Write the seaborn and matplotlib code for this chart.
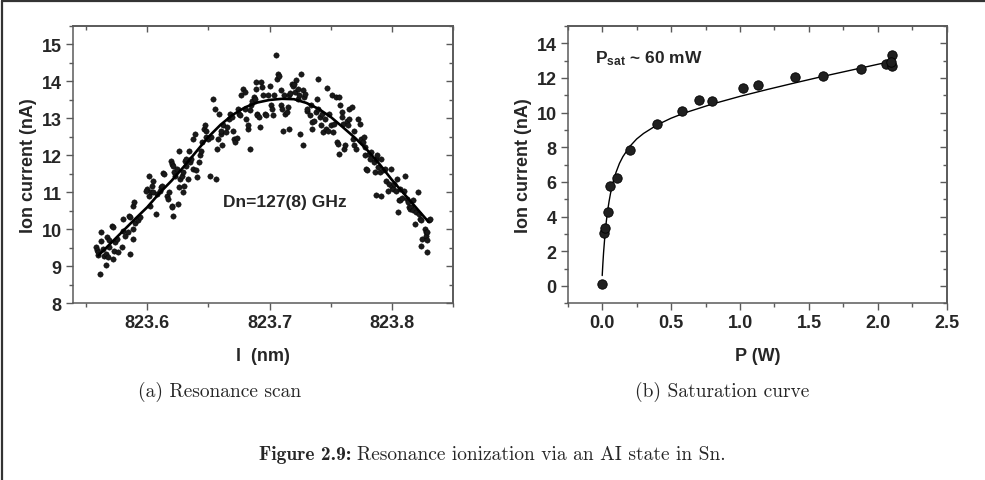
import matplotlib
matplotlib.use("Agg")
import matplotlib.pyplot as plt
import seaborn as sns
import pandas as pd
from matplotlib.ticker import MultipleLocator, FormatStrFormatter
from matplotlib.lines import Line2D
from matplotlib.transforms import offset_copy

# ---------------- data: (a) resonance scan ----------------
scan_x = (
    [823.558, 823.559, 823.560, 823.561, 823.560, 823.562, 823.562, 823.564, 823.565, 823.566,
     823.566, 823.568, 823.567, 823.569, 823.569, 823.571, 823.572, 823.572, 823.573, 823.574]
    + [823.575, 823.576, 823.579, 823.580, 823.582, 823.580, 823.584, 823.585, 823.586, 823.586,
       823.588, 823.588, 823.589, 823.588, 823.590, 823.592]
    + [823.594, 823.600, 823.599, 823.601, 823.601, 823.603, 823.602, 823.605, 823.604, 823.605,
       823.607, 823.608, 823.610, 823.611, 823.612]
    + [823.613, 823.614, 823.616, 823.617, 823.618, 823.620, 823.620, 823.621, 823.619, 823.620,
       823.621, 823.622, 823.623, 823.624, 823.625, 823.626, 823.626, 823.627, 823.628, 823.629,
       823.629, 823.630]
    + [823.631, 823.632, 823.632, 823.633, 823.634, 823.635, 823.636, 823.637, 823.637, 823.639,
       823.640, 823.641, 823.642, 823.643, 823.644, 823.645, 823.646, 823.647, 823.648, 823.648,
       823.650]
    + [823.651, 823.652, 823.654, 823.655, 823.656, 823.657, 823.658, 823.659, 823.660, 823.660,
       823.661, 823.662, 823.664, 823.665, 823.667, 823.668, 823.669, 823.670, 823.671, 823.672]
    + [823.673, 823.674, 823.675, 823.676, 823.677, 823.678, 823.680, 823.680, 823.681, 823.682,
       823.682, 823.684, 823.684, 823.685, 823.686, 823.687, 823.688, 823.689, 823.689, 823.690]
    + [823.690, 823.691, 823.692, 823.693, 823.694, 823.695, 823.696, 823.697, 823.699, 823.700,
       823.701, 823.702, 823.703, 823.704, 823.705, 823.706, 823.707, 823.708, 823.709, 823.709,
       823.710, 823.711, 823.712, 823.713]
    + [823.714, 823.715, 823.716, 823.716, 823.717, 823.718, 823.719, 823.720, 823.721, 823.722,
       823.723, 823.723, 823.724, 823.725, 823.726, 823.727, 823.727, 823.728, 823.729, 823.731,
       823.731]
    + [823.733, 823.734, 823.735, 823.735, 823.736, 823.738, 823.739, 823.740, 823.740, 823.741,
       823.742, 823.743, 823.744, 823.745, 823.746, 823.747, 823.748, 823.749, 823.750, 823.751]
    + [823.752, 823.753, 823.754, 823.755, 823.756, 823.757, 823.757, 823.758, 823.759, 823.759,
       823.760, 823.761, 823.762, 823.763, 823.764, 823.765, 823.765, 823.767, 823.768, 823.769]
    + [823.769, 823.771, 823.772, 823.774, 823.775, 823.776, 823.777, 823.778, 823.778, 823.779,
       823.780, 823.781, 823.782, 823.783, 823.785, 823.786, 823.787, 823.788, 823.789, 823.790,
       823.787, 823.791]
    + [823.791, 823.793, 823.794, 823.795, 823.797, 823.798, 823.799, 823.800, 823.801, 823.802,
       823.803, 823.804, 823.805, 823.806, 823.807, 823.807, 823.808, 823.810]
    + [823.811, 823.812, 823.813, 823.814, 823.815, 823.816, 823.817, 823.817, 823.819, 823.820,
       823.821, 823.822, 823.823, 823.824, 823.824, 823.825, 823.827, 823.828, 823.828, 823.829,
       823.829, 823.830, 823.831, 823.829]
)
scan_y = (
    [9.52, 9.45, 9.38, 8.79, 9.30, 9.92, 9.68, 9.47, 9.29, 9.33,
     9.04, 9.25, 9.78, 9.72, 9.53, 10.08, 10.05, 9.20, 9.42, 9.66]
    + [9.74, 9.38, 9.52, 9.95, 9.83, 10.28, 9.92, 10.37, 10.33, 9.34,
       9.74, 10.64, 10.73, 10.01, 10.17, 10.24]
    + [10.33, 11.09, 11.05, 11.45, 10.91, 11.00, 10.64, 11.32, 11.18, 11.00,
       10.42, 10.96, 11.05, 11.14, 11.18]
    + [11.53, 11.50, 10.91, 10.82, 11.00, 10.64, 10.60, 10.37, 11.86, 11.77,
       11.72, 11.55, 11.45, 11.64, 10.69, 12.13, 11.14, 11.36, 11.45, 11.00,
       11.55, 11.18]
    + [11.86, 11.72, 11.90, 11.36, 12.13, 11.82, 11.90, 11.64, 12.45, 12.58,
       11.60, 11.42, 11.82, 12.00, 12.13, 12.36, 12.72, 12.81, 12.50, 12.67,
       12.45]
    + [11.45, 12.49, 13.53, 13.26, 11.36, 12.18, 12.45, 13.12, 12.58, 12.67,
       12.27, 12.81, 12.63, 12.76, 12.99, 13.12, 13.03, 12.67, 12.45, 12.36]
    + [12.47, 13.26, 13.12, 13.08, 13.62, 13.80, 13.71, 13.26, 12.99, 12.72,
       12.81, 13.22, 12.18, 13.35, 13.48, 13.57, 13.53, 13.80, 13.98, 13.12]
    + [13.08, 13.03, 12.76, 13.98, 13.85, 13.62, 13.12, 13.08, 13.62, 13.89,
       13.35, 13.26, 13.08, 13.62, 14.72, 14.07, 14.21, 14.16, 13.76, 13.35,
       13.26, 12.67, 13.62, 13.12]
    + [13.17, 13.30, 12.72, 13.62, 13.69, 13.94, 13.89, 13.94, 13.71, 14.03,
       13.80, 13.53, 13.62, 12.58, 14.21, 12.27, 13.76, 13.57, 13.66, 13.21,
       13.26]
    + [13.08, 13.35, 12.72, 12.90, 12.94, 13.17, 13.53, 14.07, 13.26, 13.03,
       12.81, 13.12, 12.63, 12.99, 12.72, 13.82, 12.67, 13.12, 12.81, 13.62]
    + [12.63, 12.85, 13.57, 12.36, 12.31, 12.04, 13.57, 13.35, 13.17, 13.03,
       12.85, 12.18, 12.27, 12.94, 12.81, 12.99, 13.26, 13.30, 12.45, 12.67]
    + [12.27, 12.18, 12.99, 12.85, 12.45, 12.36, 12.50, 12.22, 12.00, 11.64,
       11.60, 12.04, 11.90, 12.09, 11.82, 11.55, 11.90, 12.00, 11.68, 11.55,
       10.92, 10.90]
    + [11.90, 11.60, 11.64, 11.32, 11.05, 11.23, 11.62, 11.14, 11.10, 11.23,
       11.05, 11.36, 10.46, 10.78, 11.10, 10.78, 10.84, 11.05]
    + [11.45, 10.82, 10.73, 10.60, 10.55, 10.60, 10.78, 10.51, 10.15, 10.46,
       11.02, 10.42, 10.28, 9.56, 10.24, 9.74, 10.01, 9.92, 9.81, 9.38,
       9.70, 10.24, 10.28, 9.92]
)
scan_fit_x = [823.56, 823.57, 823.58, 823.59, 823.60, 823.61, 823.62, 823.63, 823.64, 823.65,
              823.66, 823.67, 823.68, 823.69, 823.70, 823.71, 823.72, 823.73, 823.74, 823.75,
              823.76, 823.77, 823.78, 823.79, 823.80, 823.81, 823.82, 823.83]
scan_fit_y = [9.29, 9.62, 9.95, 10.28, 10.60, 10.98, 11.32, 11.70, 12.10, 12.50,
              12.83, 13.10, 13.30, 13.43, 13.50, 13.53, 13.52, 13.42, 13.26, 13.04,
              12.76, 12.47, 12.14, 11.76, 11.34, 10.96, 10.58, 10.20]

# ---------------- data: (b) saturation curve ----------------
power_x = [0.0, 0.015, 0.019, 0.039, 0.06, 0.106, 0.198, 0.40, 0.578, 0.70,
           0.80, 1.02, 1.13, 1.40, 1.60, 1.878, 2.06, 2.10, 2.10, 2.095]
power_y = [0.12, 3.08, 3.33, 4.28, 5.78, 6.20, 7.86, 9.34, 10.07, 10.73,
           10.65, 11.44, 11.59, 12.04, 12.09, 12.54, 12.83, 13.31, 12.71, 12.90]
power_fit_x = [0.0, 0.005, 0.01, 0.02, 0.03, 0.04, 0.05, 0.06, 0.08, 0.10, 0.125, 0.15,
               0.2, 0.25, 0.3, 0.4, 0.5, 0.6, 0.8, 1.0, 1.2, 1.4, 1.6, 1.8, 2.0, 2.1]
power_fit_y = [0.60, 1.32, 1.94, 2.95, 3.74, 4.37, 4.89, 5.33, 6.03, 6.55, 7.07, 7.46,
               8.05, 8.48, 8.80, 9.30, 9.68, 9.99, 10.50, 10.94, 11.34, 11.72, 12.09, 12.44,
               12.79, 12.96]

# ---------------- style ----------------
sns.set_theme(style="ticks")
plt.rcParams["font.family"] = ["Liberation Sans", "DejaVu Sans"]
plt.rcParams["mathtext.default"] = "regular"
SPINE = "#5a5a5a"

fig = plt.figure(figsize=(9.85, 4.81), dpi=100)
ax1 = fig.add_axes([0.0738, 0.3674, 0.3861, 0.5765])
ax2 = fig.add_axes([0.5764, 0.3674, 0.3848, 0.5765])

scan_df = pd.DataFrame({"x": scan_x, "y": scan_y})
scan_fit_df = pd.DataFrame({"x": scan_fit_x, "y": scan_fit_y})
pow_df = pd.DataFrame({"x": power_x, "y": power_y})
pow_fit_df = pd.DataFrame({"x": power_fit_x, "y": power_fit_y})

sns.scatterplot(data=scan_df, x="x", y="y", ax=ax1, s=15, color="#1a1a1a",
                edgecolor="#000000", linewidth=0.3, zorder=3)
sns.lineplot(data=scan_fit_df, x="x", y="y", ax=ax1, color="black", lw=1.9,
             estimator=None, sort=False, zorder=4)

sns.lineplot(data=pow_fit_df, x="x", y="y", ax=ax2, color="black", lw=1.0,
             estimator=None, sort=False, zorder=2)
sns.scatterplot(data=pow_df, x="x", y="y", ax=ax2, s=46, color="#202020",
                edgecolor="#000000", linewidth=0.6, zorder=3)
sns.scatterplot(data=pow_df, x="x", y="y", ax=ax2, s=4, color="#8c8c8c",
                linewidth=0, zorder=4)
ax2.collections[-1].set_transform(offset_copy(ax2.transData, fig=fig, x=-1.0, y=1.0,
                                              units="points"))


def style_axis(ax, xlim, ylim, xmaj, xmin, ymaj, ymin, xfmt, yfmt):
    ax.set_xlim(*xlim)
    ax.set_ylim(*ylim)
    ax.xaxis.set_major_locator(MultipleLocator(xmaj))
    ax.xaxis.set_minor_locator(MultipleLocator(xmin))
    ax.yaxis.set_major_locator(MultipleLocator(ymaj))
    ax.yaxis.set_minor_locator(MultipleLocator(ymin))
    ax.xaxis.set_major_formatter(FormatStrFormatter(xfmt))
    ax.yaxis.set_major_formatter(FormatStrFormatter(yfmt))
    for sp in ax.spines.values():
        sp.set_visible(True)
        sp.set_color(SPINE)
        sp.set_linewidth(1.1)
    ax.tick_params(which="both", direction="out", color=SPINE, width=1.0,
                   top=False, right=False)
    ax.tick_params(which="major", length=5, labelsize=13, pad=3)
    ax.tick_params(which="minor", length=2.8)
    for lab in ax.get_xticklabels() + ax.get_yticklabels():
        lab.set_fontweight("bold")
    top = ax.secondary_xaxis("top")
    top.xaxis.set_major_locator(MultipleLocator(xmaj))
    top.xaxis.set_minor_locator(MultipleLocator(xmin))
    top.tick_params(which="both", direction="in", color=SPINE, width=1.0, labeltop=False)
    top.tick_params(which="major", length=4)
    top.tick_params(which="minor", length=2.8)
    top.spines["top"].set_color(SPINE)
    right = ax.secondary_yaxis("right")
    right.yaxis.set_major_locator(MultipleLocator(ymaj))
    right.yaxis.set_minor_locator(MultipleLocator(ymin))
    right.tick_params(which="both", direction="in", color=SPINE, width=1.0, labelright=False)
    right.tick_params(which="major", length=5)
    right.tick_params(which="minor", length=2.8)
    right.spines["right"].set_color(SPINE)


style_axis(ax1, (823.539, 823.85), (8, 15.5), 0.1, 0.05, 1, 0.5, "%.1f", "%d")
style_axis(ax2, (-0.25, 2.5), (-1, 15), 0.5, 0.25, 2, 1, "%.1f", "%d")

ax1.set_xlabel("l  (nm)", fontsize=13, fontweight="bold", labelpad=11)
ax1.set_ylabel("Ion current (nA)", fontsize=13, fontweight="bold", labelpad=3)
ax2.set_xlabel("P (W)", fontsize=13, fontweight="bold", labelpad=11)
ax2.set_ylabel("Ion current (nA)", fontsize=13, fontweight="bold", labelpad=3)

ax1.text(823.662, 10.76, "Dn=127(8) GHz", fontsize=12.5, fontweight="bold",
         ha="left", va="center")
ax2.text(-0.05, 13.2, r"P$_{sat}$ ~ 60 mW", fontsize=12.5, fontweight="bold",
         ha="left", va="center")

# captions
CAP = 14
fig.text(0.2234, 0.185, "(a) Resonance scan", fontfamily="cmr10", fontsize=CAP,
         ha="center", va="center")
fig.text(0.733, 0.185, "(b) Saturation curve", fontfamily="cmr10", fontsize=CAP,
         ha="center", va="center")
t_bold = fig.text(0.0, 0.054, "Figure 2.9:", fontfamily="cmb10", fontsize=CAP,
                  ha="left", va="center")
t_rest = fig.text(0.0, 0.054, "Resonance ionization via an AI state in Sn.",
                  fontfamily="cmr10", fontsize=CAP, ha="left", va="center")
fig.canvas.draw()
r = fig.canvas.get_renderer()
w1 = t_bold.get_window_extent(r).width / fig.bbox.width
w2 = t_rest.get_window_extent(r).width / fig.bbox.width
gap = 6 / fig.bbox.width
start = 0.5 - (w1 + gap + w2) / 2
t_bold.set_x(start)
t_rest.set_x(start + w1 + gap)

# page frame (top and left edges)
fig.add_artist(Line2D([0.0025, 0.0025], [0.0, 0.996], transform=fig.transFigure,
                      color="#333333", lw=1.6))
fig.add_artist(Line2D([0.0025, 1.0], [0.996, 0.996], transform=fig.transFigure,
                      color="#333333", lw=1.6))

fig.savefig("out.png", dpi=100)
